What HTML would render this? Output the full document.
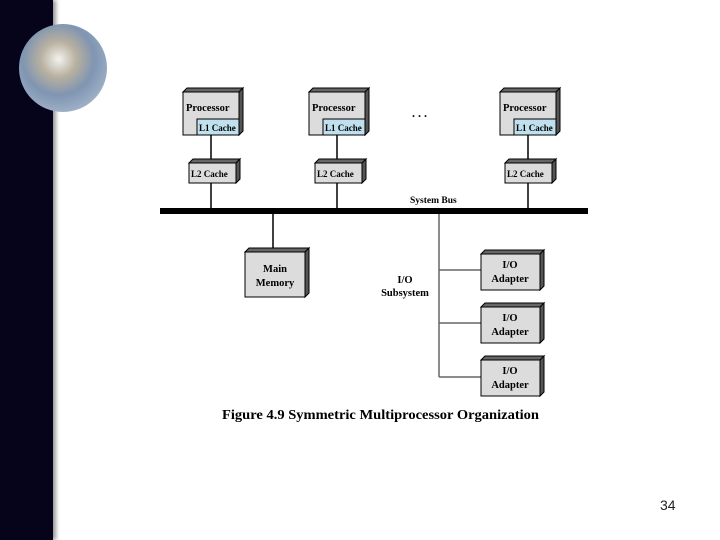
<!DOCTYPE html>
<html><head><style>
body{margin:0;width:720px;height:540px;overflow:hidden;background:#fff;position:relative;font-family:"Liberation Serif",serif}
.strip{position:absolute;left:0;top:0;width:53px;height:540px;background:#05041a;box-shadow:3px 0 4px #999}
.earth{position:absolute;left:19px;top:24px;width:88px;height:88px;border-radius:50%;background:radial-gradient(circle at 45% 40%,#f2f2ee 0%,#b8b0a0 25%,#7f95b2 50%,#9fb0c6 75%,#eef0f2 100%)}
.num{position:absolute;left:660px;top:497px;font:14px "Liberation Sans",sans-serif;color:#222}
</style></head><body>
<div class="strip"></div>
<div class="earth"></div>
<svg width="720" height="540" style="position:absolute;left:0;top:0" font-family="Liberation Serif, serif" font-weight="bold">
<g stroke="#000" stroke-width="1.5">
<line x1="211" y1="135" x2="211" y2="210"/>
<line x1="337" y1="135" x2="337" y2="210"/>
<line x1="528" y1="135" x2="528" y2="210"/>
<line x1="273" y1="214" x2="273" y2="250"/>
</g>
<g stroke="#666" stroke-width="1.5">
<line x1="439" y1="214" x2="439" y2="377"/>
<line x1="439" y1="270" x2="482" y2="270"/>
<line x1="439" y1="323" x2="482" y2="323"/>
<line x1="439" y1="377" x2="482" y2="377"/>
</g>
<rect x="160" y="208" width="428" height="6" fill="#000"/>
<g stroke="#000" stroke-width="1">
<g id="p">
<polygon points="183,92 187,88 243,88 239,92" fill="#666"/>
<polygon points="239,92 243,88 243,131 239,135" fill="#555"/>
<rect x="183" y="92" width="56" height="43" fill="#dcdcdc"/>
<rect x="197" y="119" width="42" height="16" fill="#bfe0ec"/>
</g>
<use href="#p" x="126"/>
<use href="#p" x="317"/>
<g id="l2">
<polygon points="189,163 193,159 240,159 236,163" fill="#666"/>
<polygon points="236,163 240,159 240,179 236,183" fill="#555"/>
<rect x="189" y="163" width="47" height="20" fill="#dcdcdc"/>
</g>
<use href="#l2" x="126"/>
<use href="#l2" x="316"/>
<polygon points="245,252 249,248 309,248 305,252" fill="#666"/>
<polygon points="305,252 309,248 309,293 305,297" fill="#555"/>
<rect x="245" y="252" width="60" height="45" fill="#dcdcdc"/>
<g id="io">
<polygon points="481,254 485,250 544,250 540,254" fill="#666"/>
<polygon points="540,254 544,250 544,286 540,290" fill="#555"/>
<rect x="481" y="254" width="59" height="36" fill="#dcdcdc"/>
</g>
<use href="#io" y="53"/>
<use href="#io" y="106"/>
</g>
<g font-size="10.5" fill="#000">
<text x="186" y="111">Processor</text><text x="312" y="111">Processor</text><text x="503" y="111">Processor</text>
<g font-size="9"><text x="199" y="131">L1 Cache</text><text x="325" y="131">L1 Cache</text><text x="516" y="131">L1 Cache</text>
<text x="191" y="177">L2 Cache</text><text x="317" y="177">L2 Cache</text><text x="507" y="177">L2 Cache</text></g>
<text x="412" y="117" font-size="12">. . .</text>
<text x="410" y="203" font-size="9.5">System Bus</text>
<text x="275" y="272" text-anchor="middle">Main</text><text x="275" y="286" text-anchor="middle">Memory</text>
<text x="405" y="283" text-anchor="middle">I/O</text><text x="405" y="296" text-anchor="middle">Subsystem</text>
<text x="510" y="268" text-anchor="middle">I/O</text><text x="510" y="282" text-anchor="middle">Adapter</text>
<text x="510" y="321" text-anchor="middle">I/O</text><text x="510" y="335" text-anchor="middle">Adapter</text>
<text x="510" y="374" text-anchor="middle">I/O</text><text x="510" y="388" text-anchor="middle">Adapter</text>
<text x="222" y="419" font-size="14" textLength="317" lengthAdjust="spacingAndGlyphs">Figure 4.9  Symmetric Multiprocessor Organization</text>
</g>
</svg>
<div class="num">34</div>
</body></html>
